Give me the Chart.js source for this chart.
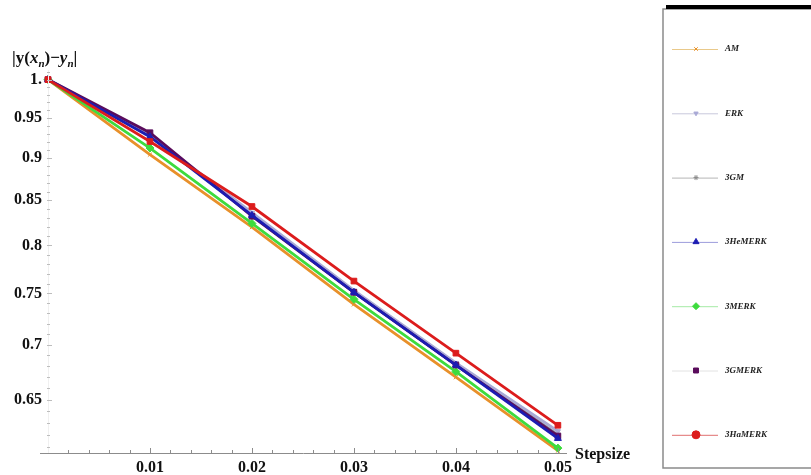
<!DOCTYPE html>
<html>
<head>
<meta charset="utf-8">
<script src="https://cdn.jsdelivr.net/npm/chart.js@4/dist/chart.umd.min.js"></script>
<style>
  html, body { margin: 0; padding: 0; background: #fff; }
  #wrap { width: 811px; height: 475px; }
</style>
</head>
<body>
<div id="wrap"><canvas id="errChart" width="811" height="475"></canvas></div>
<script>
// step sizes on the x axis
const stepsizes = [0, 0.01, 0.02, 0.03, 0.04, 0.05];

// absolute error |y(x_n) - y_n| per method
const amErr     = [1, 0.904, 0.820, 0.739, 0.670, 0.607];
const erkErr    = [1, 0.928, 0.836, 0.753, 0.683, 0.623];
const gmErr     = [1, 0.927, 0.834, 0.752, 0.682, 0.620];
const heMerkErr = [1, 0.926, 0.833, 0.751, 0.681, 0.617];
const merkErr   = [1, 0.912, 0.824, 0.744, 0.675, 0.609];
const gMerkErr  = [1, 0.931, 0.832, 0.751, 0.681, 0.619];
const haMerkErr = [1, 0.920, 0.843, 0.7625, 0.692, 0.628];

const methodNames = ['AM', 'ERK', '3GM', '3HeMERK', '3MERK', '3GMERK', '3HaMERK'];

// axis ticks
const xTickValues = [0.01, 0.02, 0.03, 0.04, 0.05];
const xTickLabels = ['0.01', '0.02', '0.03', '0.04', '0.05'];
const yTickValues = [0.65, 0.7, 0.75, 0.8, 0.85, 0.9, 0.95, 1];
const yTickLabels = ['0.65', '0.7', '0.75', '0.8', '0.85', '0.9', '0.95', '1.'];

const toPoints = vals => vals.map((v, i) => ({ x: stepsizes[i], y: v }));

// line style per method
const styles = [
    { color: '#E8902A', legendColor: '#E9C98A', point: 'crossRot', radius: 3, legendPoint: 'crossRot', order: 4 },
    { color: '#A9A9D6', legendColor: '#C8C8DC', point: 'triangle', radius: 3, legendPoint: 'triangle', rotation: 180, order: 5 },
    { color: '#8A8A8A', legendColor: '#B5B5B5', point: 'star', radius: 3, legendPoint: 'star', order: 6 },
    { color: '#1C1CB2', legendColor: '#9C9CDC', point: 'triangle', radius: 4, legendPoint: 'triangle', order: 1 },
    { color: '#3DDB3D', legendColor: '#A6EBA6', point: 'rectRot', radius: 4, legendPoint: 'rectRot', order: 3 },
    { color: '#5A0C5C', legendColor: '#E2E2E2', point: 'rect', radius: 4, legendPoint: 'rect', order: 2 },
    { color: '#DC1C1C', legendColor: '#E07070', point: 'rect', radius: 4, legendPoint: 'circle', order: 0 }
];

const seriesValues = [amErr, erkErr, gmErr, heMerkErr, merkErr, gMerkErr, haMerkErr];

const datasets = seriesValues.map((vals, i) => ({
    label: methodNames[i],
    data: toPoints(vals),
    borderColor: styles[i].color,
    backgroundColor: styles[i].color,
    borderWidth: 2.8,
    pointStyle: styles[i].point,
    pointRadius: styles[i].radius,
    pointRotation: styles[i].rotation || 0,
    pointBorderWidth: 1,
    order: styles[i].order,
    tension: 0,
    clip: false
}));

// axes decorations, axis titles and the boxed legend
const decorPlugin = {
    id: 'decor',
    afterDraw(chart) {
        const { ctx, chartArea, scales } = chart;
        const xs = scales.x, ys = scales.y;
        ctx.save();

        // x axis line + inward ticks
        ctx.strokeStyle = '#8c8c8c';
        ctx.lineWidth = 1;
        ctx.beginPath();
        ctx.moveTo(chartArea.left - 8, chartArea.bottom + 0.5);
        ctx.lineTo(chartArea.right + 4, chartArea.bottom + 0.5);
        ctx.stroke();
        for (let i = 1; i <= 25; i++) {
            const px = Math.round(xs.getPixelForValue(i * 0.002)) + 0.5;
            const len = i % 5 === 0 ? 5 : 3;
            ctx.beginPath();
            ctx.moveTo(px, chartArea.bottom);
            ctx.lineTo(px, chartArea.bottom - len);
            ctx.stroke();
        }

        // y axis (faint) + inward ticks
        ctx.strokeStyle = '#f0f0f0';
        ctx.beginPath();
        ctx.moveTo(chartArea.left + 0.5, chartArea.top);
        ctx.lineTo(chartArea.left + 0.5, chartArea.bottom);
        ctx.stroke();
        ctx.strokeStyle = '#bdbdbd';
        for (let i = 61; i <= 101; i++) {
            const py = Math.round(ys.getPixelForValue(i / 100)) + 0.5;
            const len = i % 5 === 0 ? 4 : 2;
            ctx.beginPath();
            ctx.moveTo(chartArea.left - 1, py);
            ctx.lineTo(chartArea.left + len, py);
            ctx.stroke();
        }

        // y axis title |y(x_n)-y_n|
        ctx.fillStyle = '#111';
        ctx.textBaseline = 'alphabetic';
        ctx.textAlign = 'left';
        let tx = 12;
        const by = 63;
        const parts = [
            ['|y(', 'bold 17px "Liberation Serif"', 0],
            ['x', 'italic bold 17px "Liberation Serif"', 0],
            ['n', 'italic bold 11px "Liberation Serif"', 4],
            [')\u2212', 'bold 17px "Liberation Serif"', 0],
            ['y', 'italic bold 17px "Liberation Serif"', 0],
            ['n', 'italic bold 11px "Liberation Serif"', 4],
            ['|', 'bold 17px "Liberation Serif"', 0]
        ];
        parts.forEach(([t, f, dy]) => {
            ctx.font = f;
            ctx.fillText(t, tx, by + dy);
            tx += ctx.measureText(t).width;
        });

        // x axis title
        ctx.font = 'bold 16px "Liberation Serif"';
        ctx.textBaseline = 'middle';
        ctx.fillText('Stepsize', chartArea.right + 12, chartArea.bottom + 2);

        // legend box
        const bx = 663, bTop = 9, bBottom = 468;
        ctx.strokeStyle = '#8a8a8a';
        ctx.lineWidth = 1.5;
        ctx.beginPath();
        ctx.moveTo(811, bTop);
        ctx.lineTo(bx, bTop);
        ctx.lineTo(bx, bBottom);
        ctx.lineTo(811, bBottom);
        ctx.stroke();
        ctx.fillStyle = '#000';
        ctx.fillRect(bx + 3, 5, 811 - bx - 3, 4);

        chart.data.datasets.forEach((ds, i) => {
            const st = styles[i];
            const ly = 49 + i * 64.3;
            ctx.strokeStyle = st.legendColor;
            ctx.lineWidth = 1;
            ctx.beginPath();
            ctx.moveTo(672, ly + 0.5);
            ctx.lineTo(718, ly + 0.5);
            ctx.stroke();
            ctx.fillStyle = st.color;
            ctx.strokeStyle = st.color;
            Chart.helpers.drawPoint(ctx, {
                pointStyle: st.legendPoint,
                radius: st.legendPoint === 'circle' ? 4 : (i < 3 ? 2.5 : 3.5),
                rotation: st.rotation || 0,
                borderWidth: 1
            }, 696, ly);
            ctx.fillStyle = '#222';
            ctx.font = 'italic bold 9px "Liberation Serif"';
            ctx.textBaseline = 'middle';
            ctx.fillText(ds.label, 725, ly);
        });

        ctx.restore();
    }
};

new Chart(document.getElementById('errChart'), {
    type: 'line',
    data: { datasets },
    options: {
        responsive: false,
        animation: false,
        layout: { padding: { left: 0, right: 248, top: 70, bottom: 0 } },
        plugins: {
            legend: { display: false },
            tooltip: { enabled: false }
        },
        scales: {
            x: {
                type: 'linear',
                min: 0,
                max: 0.0505,
                afterBuildTicks: scale => { scale.ticks = xTickValues.map(v => ({ value: v })); },
                afterFit: scale => { scale.height = 22; },
                grid: { display: false, drawTicks: false },
                border: { display: false },
                ticks: {
                    autoSkip: false,
                    maxRotation: 0,
                    padding: 5,
                    color: '#111',
                    font: { family: 'Liberation Serif', size: 16, weight: 'bold' },
                    callback: (v, i) => xTickLabels[i]
                }
            },
            y: {
                type: 'logarithmic',
                min: 0.605,
                max: 1.013,
                afterBuildTicks: scale => { scale.ticks = yTickValues.map(v => ({ value: v })); },
                afterFit: scale => { scale.width = 48; },
                grid: { display: false, drawTicks: false },
                border: { display: false },
                ticks: {
                    autoSkip: false,
                    padding: 6,
                    color: '#111',
                    font: { family: 'Liberation Serif', size: 16, weight: 'bold' },
                    callback: (v, i) => yTickLabels[i]
                }
            }
        }
    },
    plugins: [decorPlugin]
});
</script>
</body>
</html>
